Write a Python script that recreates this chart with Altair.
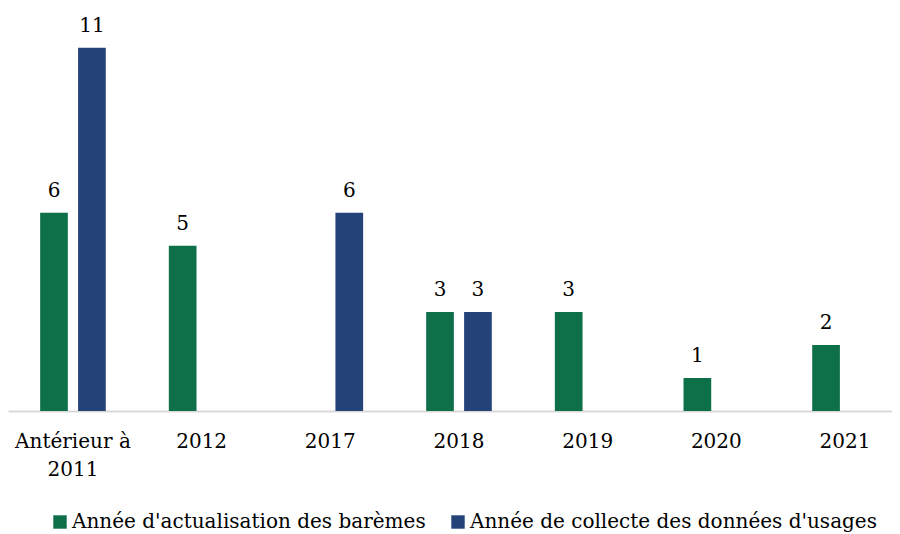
import altair as alt
import pandas as pd

categories = ["Antérieur à 2011", "2012", "2017", "2018", "2019", "2020", "2021"]
series = ["Année d'actualisation des barèmes", "Année de collecte des données d'usages"]
actualisation = [6, 5, None, 3, 3, 1, 2]
collecte = [11, None, 6, 3, None, None, None]
colors = ["#0e7049", "#244379"]

rows = []
for c, a, b in zip(categories, actualisation, collecte):
    if a is not None:
        rows.append({"cat": c, "serie": series[0], "val": a})
    if b is not None:
        rows.append({"cat": c, "serie": series[1], "val": b})
df = pd.DataFrame(rows)

FONT = "DejaVu Serif"

x = alt.X("cat:N", sort=categories,
          scale=alt.Scale(domain=categories, paddingInner=0.49, paddingOuter=0.18, align=0.694),
          axis=alt.Axis(title=None, labelAngle=0, ticks=False, domainColor="#d9d9d9", domainWidth=2,
                        labelFont=FONT, labelFontSize=20, labelColor="#000000", labelPadding=20,
                        labelLineHeight=28,
                        labelExpr="datum.label == 'Antérieur à 2011' ? ['Antérieur à', '2011'] : datum.label"))
xo = alt.XOffset("serie:N", scale=alt.Scale(domain=series, paddingInner=0.27, paddingOuter=0))
y = alt.Y("val:Q", scale=alt.Scale(domain=[0, 12.2], nice=False), axis=None)

base = alt.Chart(df).encode(x=x, xOffset=xo, y=y)

bars = base.mark_bar().encode(
    color=alt.Color("serie:N", scale=alt.Scale(domain=series, range=colors),
                    legend=alt.Legend(title=None, orient="none", legendX=42, legendY=504,
                                      direction="horizontal", symbolType="square", symbolSize=180,
                                      symbolStrokeWidth=0, labelFont=FONT, labelFontSize=20,
                                      labelColor="#000000", columnPadding=22, labelLimit=600,
                                      labelOffset=2))
)
labels = base.mark_text(baseline="bottom", dy=-12, font=FONT, fontSize=20, color="#000000").encode(
    text=alt.Text("val:Q")
)

chart = (bars + labels).properties(
    width=884, height=403,
    padding={"left": 0, "top": 0, "right": 0, "bottom": 123},
    autosize=alt.AutoSizeParams(type="none")
).configure_view(stroke=None)

chart.save("out.html", embed_options={"renderer": "svg", "actions": False})
